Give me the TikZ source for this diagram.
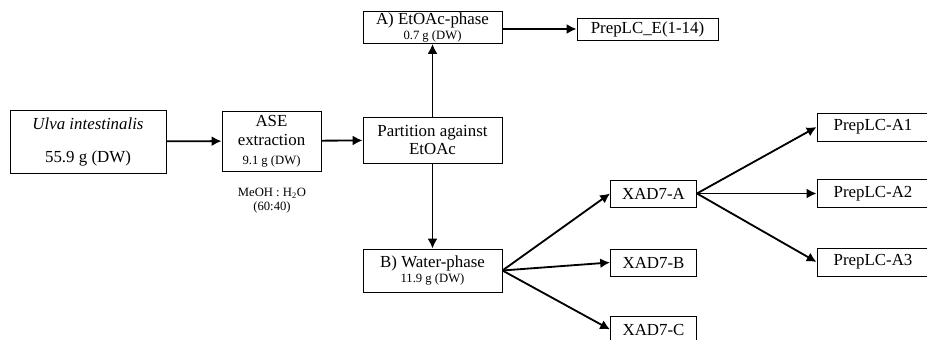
\documentclass[tikz,border=0pt]{standalone}
\usepackage{fontspec}
\setmainfont{Liberation Serif}
\usetikzlibrary{arrows.meta, positioning, calc}

\begin{document}
\begin{tikzpicture}[
    x=0.025cm, y=-0.025cm,
    font=\fontsize{12}{13.5}\selectfont,
    % Boxes and arrows
    box/.style={draw, line width=0.6pt, align=center, inner sep=1pt},
    stepbig/.style={box, minimum width=3.475cm},
    xad/.style={box, minimum width=2.15cm, minimum height=0.675cm},
    prep/.style={box, minimum width=2.8cm, minimum height=0.7cm},
    small/.style={font=\fontsize{9}{10}\selectfont},
    arr/.style={line width=1.3pt, -{Latex[length=7pt,width=7pt]}}
]
\useasboundingbox (0,0) rectangle (927,340);

% ===============================
% Extraction
% ===============================
\node[box, minimum width=3.9cm, minimum height=1.575cm] (ulva) at (88,141.5)
    {\textit{Ulva intestinalis}\\[10pt]55.9 g (DW)};
\node[box, minimum width=2.475cm, minimum height=1.5cm] (ase) at (271.5,141)
    {ASE\\extraction\\{\small 9.1 g (DW)}};
\node[small, align=center] (solv) at (272,201) {MeOH : H\textsubscript{2}O\\(60:40)};

% ===============================
% Partition
% ===============================
\node[stepbig, minimum height=1.15cm] (part) at (432.5,140) {Partition against\\EtOAc};
\node[stepbig, minimum height=0.725cm] (etoac) at (432.5,27.5)
    {A) EtOAc-phase\\[-3pt]{\small 0.7 g (DW)}};
\node[stepbig, minimum height=1.075cm] (water) at (432.5,270.5)
    {B) Water-phase\\[-3pt]{\small 11.9 g (DW)}};
\node[box, minimum width=3.525cm, minimum height=0.55cm] (prepe) at (647.5,29) {PrepLC\_E(1-14)};

% ===============================
% XAD7 fractions
% ===============================
\node[xad] (xa) at (653.5,193.5) {XAD7-A};
\node[xad] (xb) at (653.5,262.5) {XAD7-B};
\node[xad] (xc) at (653.5,329.5) {XAD7-C};

\node[prep] (pa1) at (873,127) {PrepLC-A1};
\node[prep] (pa2) at (873,193.5) {PrepLC-A2};
\node[prep] (pa3) at (873,262) {PrepLC-A3};

% Flow
\draw[arr] (ulva) -- (ase);
\draw[arr] (ase) -- (part);
\draw[arr] (part) -- (etoac);
\draw[arr] (part) -- (water);
\draw[arr] (etoac.east |- prepe.west) -- (prepe.west);
\draw[arr] (water.east) -- (xa.west);
\draw[arr] (water.east) -- (xb.west);
\draw[arr] (water.east) -- (xc.west);
\draw[arr] (xa.east) -- (pa1.west);
\draw[arr] (xa.east) -- (pa2.west);
\draw[arr] (xa.east) -- (pa3.west);

\end{tikzpicture}
\end{document}
